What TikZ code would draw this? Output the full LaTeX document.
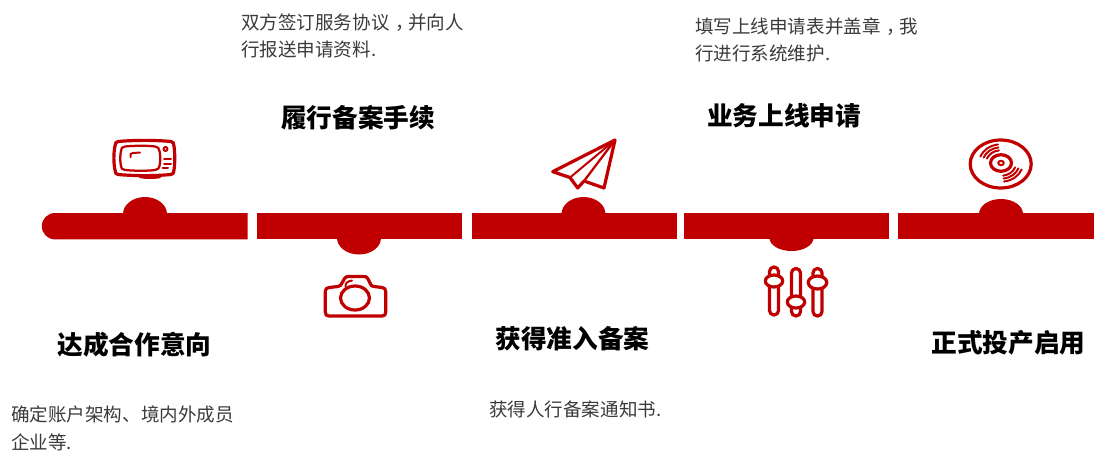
\documentclass[tikz,border=0pt]{standalone}
\usepackage{fontspec}
\newfontfamily\cjk{Noto Sans CJK SC}
\definecolor{barred}{HTML}{C00000}
\definecolor{bodytxt}{HTML}{3A3A3A}
\newcommand{\midcomma}{\hspace{0.3em}，\hspace{-0.3em}}
\tikzset{
  px/.style={x=0.75pt,y=-0.75pt},
  bar/.style={fill=barred,draw=none},
  icon/.style={draw=barred,line width=2.4pt,line join=round,line cap=round,fill=none},
  thinicon/.style={draw=barred,line width=1.5pt,line join=round,line cap=round,fill=none},
  title/.style={inner sep=0pt,font=\cjk\bfseries\fontsize{19.25pt}{23pt}\selectfont,text=black},
  desc/.style={inner sep=0pt,anchor=west,align=left,text=bodytxt,font=\cjk\fontsize{13.9pt}{20.7pt}\selectfont},
}
\begin{document}
\begin{tikzpicture}[px]
\useasboundingbox (0,0) rectangle (1094,450);
% bumps
\fill[bar] (145,214) ellipse [x radius=22,y radius=17];
\fill[bar] (359,238) ellipse [x radius=22,y radius=16.5];
\fill[bar] (583.5,214) ellipse [x radius=22,y radius=17];
\fill[bar] (791.5,238) ellipse [x radius=22,y radius=13];
\fill[bar] (1001,214) ellipse [x radius=22,y radius=15];
% bars
\fill[bar] (55,213) arc[start angle=90,end angle=270,x radius=13.2,y radius=-13.2] -- (247.7,239.4) -- (247.7,213) -- cycle;
\fill[bar] (256.7,213) rectangle (462.3,239.4);
\fill[bar] (472,213) rectangle (676.7,239.4);
\fill[bar] (683.7,213) rectangle (889.3,239.4);
\fill[bar] (898.3,213) rectangle (1094,239.4);
% TV icon
\draw[icon] (118,141.5) .. controls (135,140) and (155,140) .. (171,141.5)
  .. controls (173,142) and (174,143) .. (174,146)
  .. controls (175,153) and (175,163) .. (174,170)
  .. controls (174,173) and (173,174) .. (171,174.5)
  .. controls (155,176) and (135,176) .. (118,174.5)
  .. controls (116,174) and (115,173) .. (115,170)
  .. controls (113.5,163) and (113.5,153) .. (115,146)
  .. controls (115,143) and (116,142) .. (118,141.5) -- cycle;
\draw[icon,line width=1.7pt] (125,146.5) .. controls (135,145.5) and (148,145.5) .. (155,146.5)
  .. controls (158,147) and (159,148) .. (159.5,151)
  .. controls (160.5,155) and (160.5,162) .. (159.5,166)
  .. controls (159,168.5) and (158,169.5) .. (155,170)
  .. controls (148,171) and (135,171) .. (125,170)
  .. controls (122,169.5) and (121,168.5) .. (121,166)
  .. controls (120,162) and (120,155) .. (121,151)
  .. controls (121,148) and (122,147) .. (125,146.5) -- cycle;
\draw[thinicon] (130.5,157) -- (130.5,154) -- (133,153) -- (140,152.5);
\draw[thinicon] (165.5,149) circle (2);
\draw[thinicon] (164,158.5) -- (171,158.5) (164,163.5) -- (171,163.5) (162.5,168) -- (168,168);
\draw[thinicon,line width=1.8pt] (140,177) .. controls (146,178) and (154,178) .. (160,177);
% camera icon
\draw[icon] (329,287.5) -- (338,286.5) .. controls (340,286.5) and (341,285) .. (342,283)
  -- (344.5,278.5) .. controls (345.5,277) and (346.5,276.5) .. (349,276.5)
  -- (364,276.5) .. controls (366,276.5) and (367,277) .. (368,279)
  -- (370.5,284) .. controls (371,285.5) and (372,286.5) .. (374,286.5)
  -- (382,287.5) .. controls (384.5,288) and (385.7,289) .. (385.7,291.5)
  -- (385.7,312) .. controls (385.7,315) and (384.5,316) .. (382,316)
  -- (329,316) .. controls (326.5,316) and (325.3,315) .. (325.3,312)
  -- (325.3,291.5) .. controls (325.3,289) and (326.5,288) .. (329,287.5) -- cycle;
\draw[icon] (355,298) ellipse [x radius=14.5,y radius=12];
\draw[thinicon] (345.5,286.5) .. controls (345.5,283) and (347,281.5) .. (352,280.5);
% plane icon
\draw[icon] (615,140) -- (552.7,171.7) -- (570,177.5) -- (577.7,188) -- (584,181) -- (604,188) -- cycle;
\draw[thinicon] (615,140) -- (570,177.5);
\draw[icon,line width=1.7pt] (615,140) -- (584,181);
% slider icon
\draw[icon,rounded corners=3.3pt] (769.5,267) rectangle (778.5,315);
\draw[icon,rounded corners=3.3pt] (791.5,268.5) rectangle (800.5,316);
\draw[icon,rounded corners=3.3pt] (813,268.5) rectangle (822,316);
\draw[icon,fill=white] (774,281) ellipse [x radius=8.7,y radius=6];
\draw[icon,fill=white] (796,302) ellipse [x radius=8.7,y radius=6];
\draw[icon,fill=white] (817.5,282.5) ellipse [x radius=9.3,y radius=6.5];
% disc icon
\draw[icon] (1000.7,164) ellipse [x radius=30.5,y radius=24];
\draw[icon] (1001,163) ellipse [x radius=10.5,y radius=8.3];
\draw[thinicon] (1001,163) ellipse [x radius=2.8,y radius=2.2];
\foreach \r in {15,18.5,22}{
  \draw[thinicon] ({1001+\r*cos(200)},{163+0.85*\r*sin(200)}) arc[start angle=200,end angle=262,x radius=\r,y radius=0.85*\r];
  \draw[thinicon] ({1001+\r*cos(20)},{163+0.85*\r*sin(20)}) arc[start angle=20,end angle=82,x radius=\r,y radius=0.85*\r];
}
% titles
\node[title] (t1) at (134.5,345) {达成合作意向};
\node[title] (t2) at (358,118) {履行备案手续};
\node[title] (t3) at (572.5,339) {获得准入备案};
\node[title] (t4) at (784,116) {业务上线申请};
\node[title] (t5) at (1008.5,343) {正式投产启用};
% descriptions
\node[desc] (d1) at (11,428.5) {确定账户架构、境内外成员\\企业等.};
\node[desc] (d2) at (241,36) {双方签订服务协议\midcomma 并向人\\行报送申请资料.};
\node[desc] (d3) at (489,409) {获得人行备案通知书.};
\node[desc] (d4) at (695,40) {填写上线申请表并盖章\midcomma 我\\行进行系统维护.};
\end{tikzpicture}
\end{document}
